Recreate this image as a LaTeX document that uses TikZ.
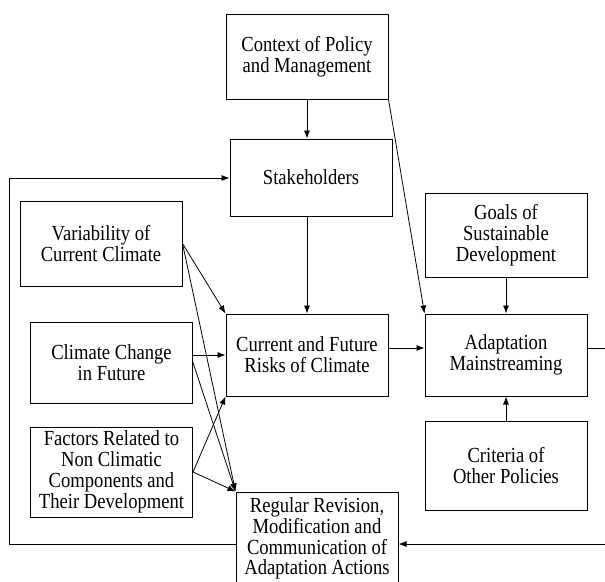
\documentclass[tikz,border=0pt]{standalone}
\usepackage{fontspec}
\setmainfont{Liberation Serif}[FakeStretch=0.865]
\usetikzlibrary{arrows.meta}

\tikzset{
  box/.style={draw, line width=1pt, align=center, inner sep=0pt,
    minimum width=162pt, font=\fontsize{21.5}{20.8}\selectfont},
  arr/.style={line width=0.8pt, -{Latex[length=8pt,width=6pt]}},
  line/.style={line width=0.8pt}
}

\begin{document}
\begin{tikzpicture}[x=1pt,y=-1pt]
			\useasboundingbox (0,0) rectangle (605,581);
			% Specify the positions of the boxes:
			\node[box, minimum height=85pt] (ctx) at (307, 56.5) {Context of Policy\\and Management};
			\node[box, minimum height=77pt] (stake) at (311, 177.5) {Stakeholders};
			\node[box, minimum height=85pt] (var) at (101, 243.5) {Variability of\\Current Climate};
			\node[box, minimum height=84pt] (goals) at (506, 235) {Goals of\\Sustainable\\Development};
			\node[box, minimum height=81pt] (cc) at (111.5, 362.5) {Climate Change\\in Future};
			\node[box, minimum height=82pt] (risks) at (307, 355) {Current and Future\\Risks of Climate};
			\node[box, minimum height=82pt] (adapt) at (506, 355) {Adaptation\\Mainstreaming};
			\node[box, minimum height=89pt] (crit) at (506, 465.5) {Criteria of\\Other Policies};
			\node[box, minimum height=90pt] (fact) at (111.5, 472) {Factors Related to\\Non Climatic\\Components and\\Their Development};
			\node[box, minimum height=93pt] (rev) at (317, 538.5) {Regular Revision,\\Modification and\\Communication of\\Adaptation Actions};
			% Specify the corners of the feedback loops:
			\coordinate (lt) at (9.6, 178);
			\coordinate (lb) at (9.6, 544);
			\coordinate (rt) at (615, 348);
			\coordinate (rb) at (615, 544);
			% Draw vertical arrows:
			\draw[arr] (ctx.south) -- (ctx.south |- stake.north);
			\draw[arr] (risks.north |- stake.south) -- (risks.north);
			\draw[arr] (goals.south) -- (adapt.north);
			\draw[arr] (crit.north) -- (adapt.south);
			% Draw arrows from the climate boxes:
			\draw[arr] (var.east) -- (risks.north west);
			\draw[arr] (var.east) -- (rev.north west);
			\draw[arr] (risks.west -| cc.east) -- (risks.west);
			\draw[arr] (cc.east) -- (rev.north west);
			\draw[arr] (fact.east) -- (risks.south west);
			\draw[arr] (fact.east) -- (rev.north west);
			% Draw arrows to adaptation:
			\draw[arr] (risks.east |- rt) -- (adapt.west |- rt);
			\draw[arr] (ctx.south east) -- (adapt.north west);
			% Draw feedback loops:
			\draw[arr] (adapt.east |- rt) -- (rt) -- (rb) -- (rb -| rev.east);
			\draw[arr] (lb -| rev.west) -- (lb) -- (lt) -- (lt -| stake.west);
		\end{tikzpicture}
\end{document}
